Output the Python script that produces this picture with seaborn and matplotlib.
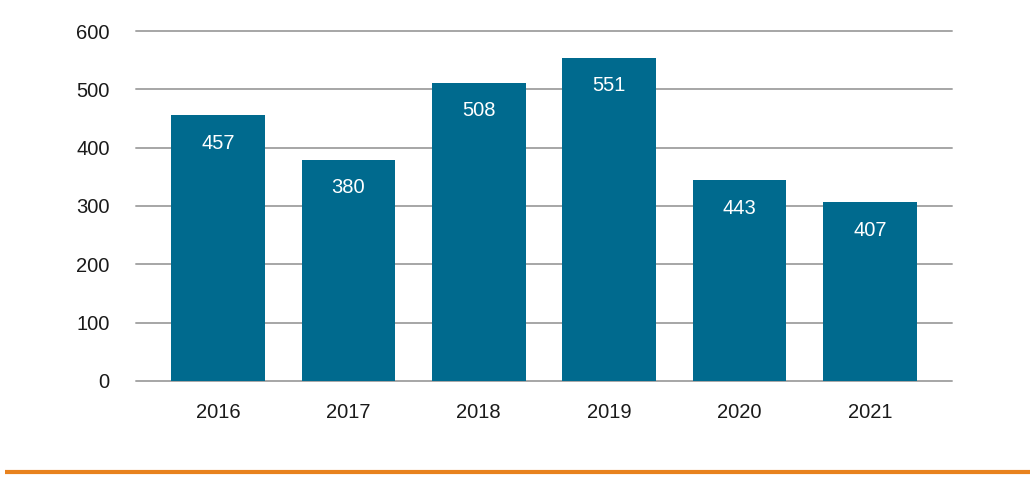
import matplotlib
matplotlib.use("Agg")
import matplotlib.pyplot as plt
import seaborn as sns
import pandas as pd
from matplotlib.lines import Line2D

years = ["2016", "2017", "2018", "2019", "2020", "2021"]
bar_heights = [456, 379, 511, 554, 344, 306]
value_labels = ["457", "380", "508", "551", "443", "407"]
y_ticks = [0, 100, 200, 300, 400, 500, 600]

sns.set_theme(style="white")
plt.rcParams['font.family'] = ['Liberation Sans', 'DejaVu Sans']

df = pd.DataFrame({"year": years, "value": bar_heights})

fig = plt.figure(figsize=(10.34, 4.83), dpi=100)
ax = fig.add_axes([0.1315, 0.2112, 0.7892, 0.7246])

sns.barplot(data=df, x="year", y="value", color="#006A8E", saturation=1,
            width=0.72, ax=ax, zorder=3, linewidth=0, edgecolor="none")

ax.set_ylim(0, 600)
ax.set_xlim(-0.63, 5.63)
ax.set_yticks(y_ticks)
ax.yaxis.grid(True, color="#A6A6A6", linewidth=1.4, zorder=0)
for gl in ax.get_ygridlines():
    gl.set_clip_on(False)
ax.set_axisbelow(True)
for s in ax.spines.values():
    s.set_visible(False)
ax.set_xlabel("")
ax.set_ylabel("")
ax.tick_params(axis="y", length=0, pad=19, labelsize=14.5, labelcolor="#1a1a1a")
ax.tick_params(axis="x", length=0, pad=16, labelsize=14.5, labelcolor="#1a1a1a")

for i, p in enumerate(ax.patches):
    ax.annotate(value_labels[i], (p.get_x() + p.get_width() / 2, p.get_height()),
                xytext=(0, -28), textcoords="offset pixels",
                ha="center", va="center", color="white", fontsize=14.5, zorder=4)

fig.add_artist(Line2D([5 / 1034, 1030 / 1034], [1 - 472 / 483, 1 - 472 / 483],
                      color="#E8821E", linewidth=3, solid_capstyle="butt",
                      transform=fig.transFigure))

fig.savefig("out.png", dpi=100)
